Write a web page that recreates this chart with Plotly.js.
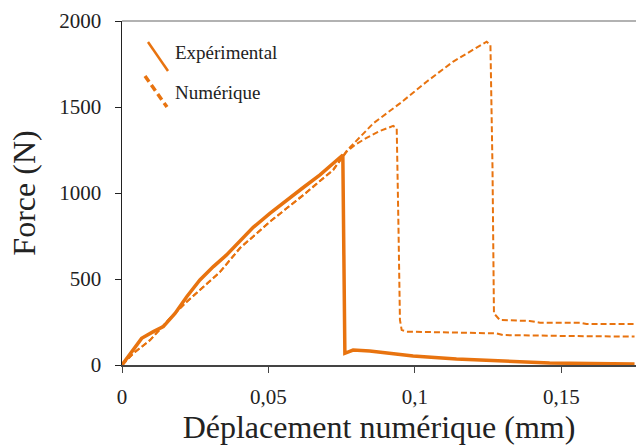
<!DOCTYPE html>
<html><head><meta charset="utf-8">
<script src="https://cdn.plot.ly/plotly-3.0.1.min.js"></script>
<style>html,body{margin:0;padding:0;background:#fff}#chart{width:636px;height:448px}</style>
</head><body><div id="chart"></div>
<script>
// Experimental curve
const expX = [0, 0.0039, 0.0067, 0.0107, 0.0141, 0.0181, 0.0221, 0.0266, 0.0312, 0.0357, 0.0397, 0.0448, 0.0505, 0.0562, 0.0619, 0.0676, 0.0750, 0.0754, 0.0761, 0.0789, 0.0846, 0.0994, 0.1142, 0.1324, 0.146, 0.160, 0.175];
const expY = [0, 87, 155, 194, 223, 300, 397, 494, 572, 640, 708, 800, 882, 959, 1032, 1105, 1211, 1221, 68, 87, 81, 52, 35, 19, 12, 8, 6];
// Numerical curve 1 (lower peak)
const num1X = [0, 0.0039, 0.0096, 0.0164, 0.0221, 0.0278, 0.0334, 0.0403, 0.0505, 0.0619, 0.0721, 0.0767, 0.0800, 0.0835, 0.0880, 0.0926, 0.0938, 0.0944, 0.0949, 0.0955, 0.0972, 0.1279, 0.1301, 0.1506, 0.175];
const num1Y = [0, 68, 145, 272, 368, 455, 540, 680, 833, 988, 1134, 1240, 1285, 1320, 1360, 1390, 1376, 800, 262, 203, 194, 184, 174, 169, 165];
// Numerical curve 2 (higher peak)
const num2X = [0, 0.0039, 0.0096, 0.0164, 0.0221, 0.0278, 0.0334, 0.0403, 0.0505, 0.0619, 0.0721, 0.0767, 0.0810, 0.0858, 0.0949, 0.104, 0.1131, 0.1245, 0.1258, 0.1265, 0.127, 0.129, 0.1392, 0.1427, 0.1563, 0.1586, 0.175];
const num2Y = [0, 68, 145, 272, 368, 455, 540, 680, 833, 988, 1134, 1245, 1320, 1405, 1521, 1647, 1764, 1880, 1860, 1153, 300, 262, 256, 246, 246, 238, 238];
const seriesNames = ['Expérimental', 'Numérique'];
const xTicks = [0, 0.05, 0.1, 0.15];
const yTicks = [0, 500, 1000, 1500, 2000];

const orange = '#E8730F';
const serif = 'Liberation Serif';
const L = 122, R = 636, T = 21, B = 365;
const px = v => (v - L) / (R - L);
const py = v => (B - v) / (B - T);

const traces = [
  {x: expX, y: expY, mode: 'lines', name: seriesNames[0], line: {color: orange, width: 3.5}, showlegend: false},
  {x: num1X, y: num1Y, mode: 'lines', name: seriesNames[1], line: {color: orange, width: 2, dash: '6px,3px'}, showlegend: false},
  {x: num2X, y: num2Y, mode: 'lines', name: seriesNames[1], line: {color: orange, width: 2, dash: '6px,3px'}, showlegend: false}
];

const layout = {
  width: 636, height: 448,
  margin: {l: L, r: 636 - R, t: T, b: 448 - B},
  paper_bgcolor: '#fff', plot_bgcolor: '#fff',
  separators: ', ',
  showlegend: false,
  font: {family: serif, color: '#222', size: 21},
  xaxis: {
    range: [0, 0.1755], tickvals: xTicks, ticktext: xTicks.map(v => String(v).replace('.', ',')),
    showgrid: false, zeroline: false, showline: true, linecolor: '#444', linewidth: 1.5,
    ticks: 'outside', ticklen: 6, tickcolor: '#444', ticklabelstandoff: 6,
    tickfont: {size: 21, family: serif, color: '#222'},
    title: {text: 'Déplacement numérique (mm)', font: {size: 32, family: serif, color: '#222'}, standoff: 7}
  },
  yaxis: {
    range: [0, 2000], tickvals: yTicks, ticktext: yTicks.map(String),
    showgrid: false, zeroline: false, showline: true, linecolor: '#222', linewidth: 1.5,
    ticks: 'outside', ticklen: 6, tickcolor: '#222', ticklabelstandoff: 9,
    tickfont: {size: 21, family: serif, color: '#222'},
    title: {text: 'Force (N)', font: {size: 32, family: serif, color: '#222'}, standoff: 14}
  },
  shapes: [
    {type: 'line', xref: 'paper', yref: 'paper', x0: 0, x1: 1, y0: 1, y1: 1, line: {color: '#999', width: 1.5}},
    {type: 'line', xref: 'paper', yref: 'paper', x0: px(148), y0: py(42), x1: px(168), y1: py(71), line: {color: orange, width: 2.5}},
    {type: 'line', xref: 'paper', yref: 'paper', x0: px(145), y0: py(76), x1: px(167), y1: py(107), line: {color: orange, width: 3.5, dash: '7px,4px'}}
  ],
  annotations: [
    {xref: 'paper', yref: 'paper', x: px(173), y: py(52), xanchor: 'left', yanchor: 'middle', showarrow: false, text: 'Expérimental', font: {size: 19, family: serif, color: '#222'}},
    {xref: 'paper', yref: 'paper', x: px(173), y: py(92), xanchor: 'left', yanchor: 'middle', showarrow: false, text: 'Numérique', font: {size: 19, family: serif, color: '#222'}}
  ]
};

Plotly.newPlot('chart', traces, layout, {displayModeBar: false, staticPlot: true});
</script>
</body></html>
